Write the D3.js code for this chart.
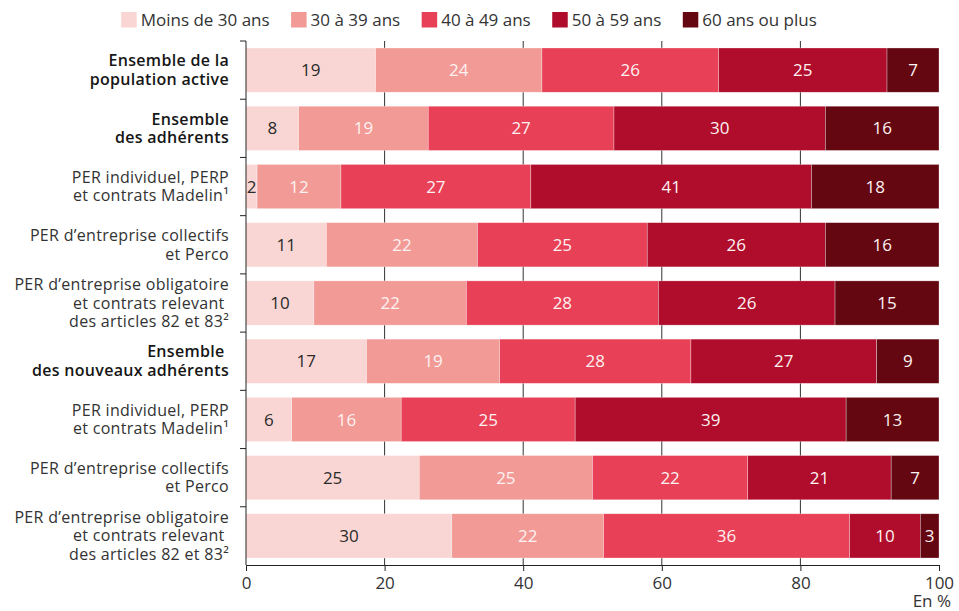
<!DOCTYPE html>
<html>
<head>
<meta charset="utf-8">
<script src="https://cdn.jsdelivr.net/npm/d3@7"></script>
<style>
    body { margin: 0; background: #fff; }
    svg text { font-family: "Open Sans", sans-serif; }
</style>
</head>
<body>
<div class="chart-container"></div>
<script>
// rows of the chart, top to bottom (each entry = lines of the label)
var categories = [
    ["Ensemble de la", "population active"],
    ["Ensemble", "des adhérents"],
    ["PER individuel, PERP", "et contrats Madelin¹"],
    ["PER d’entreprise collectifs", "et Perco"],
    ["PER d’entreprise obligatoire", "et contrats relevant ", "des articles 82 et 83²"],
    ["Ensemble ", "des nouveaux adhérents"],
    ["PER individuel, PERP", "et contrats Madelin¹"],
    ["PER d’entreprise collectifs", "et Perco"],
    ["PER d’entreprise obligatoire", "et contrats relevant ", "des articles 82 et 83²"]
];
var boldRows = [true, true, false, false, false, true, false, false, false];

var ageGroups = ["Moins de 30 ans", "30 à 39 ans", "40 à 49 ans", "50 à 59 ans", "60 ans ou plus"];
var colors = ["#f9d6d3", "#f29a95", "#e84056", "#af0d2b", "#640711"];

// shares in %
var under30 = [18.7, 7.6, 1.6, 11.6, 9.8, 17.4, 6.6, 25.0, 29.7];
var age30to39 = [24.0, 18.7, 12.1, 21.8, 22.0, 19.2, 15.8, 25.0, 21.9];
var age40to49 = [25.5, 26.8, 27.4, 24.5, 27.7, 27.6, 25.1, 22.4, 35.5];
var age50to59 = [24.3, 30.5, 40.5, 25.7, 25.5, 26.8, 39.1, 20.7, 10.2];
var over60 = [7.5, 16.4, 18.4, 16.4, 15.0, 9.0, 13.4, 6.9, 2.7];

// printed values (rounded, as shown in the bars)
var under30Labels = [19, 8, 2, 11, 10, 17, 6, 25, 30];
var age30to39Labels = [24, 19, 12, 22, 22, 19, 16, 25, 22];
var age40to49Labels = [26, 27, 27, 25, 28, 28, 25, 22, 36];
var age50to59Labels = [25, 30, 41, 26, 26, 27, 39, 21, 10];
var over60Labels = [7, 16, 18, 16, 15, 9, 13, 7, 3];

var xTicks = [0, 20, 40, 60, 80, 100];

var width = 959, height = 611;
var margin = {top: 41, right: 20, bottom: 46, left: 246};

var keys = ["g0", "g1", "g2", "g3", "g4"];
var series = [under30, age30to39, age40to49, age50to59, over60];
var seriesLabels = [under30Labels, age30to39Labels, age40to49Labels, age50to59Labels, over60Labels];

var table = categories.map(function (c, i) {
    var row = {index: i};
    keys.forEach(function (k, j) { row[k] = series[j][i]; });
    return row;
});

var svg = d3.select(".chart-container").append("svg")
    .attr("width", width)
    .attr("height", height);

var x = d3.scaleLinear()
    .domain([0, 100])
    .range([margin.left, 939]);

var y = d3.scaleBand()
    .domain(d3.range(categories.length))
    .range([margin.top, 565])
    .paddingInner(0.24)
    .paddingOuter(0.12);

// vertical gridlines behind the bars
svg.append("g")
    .selectAll("line")
    .data(xTicks.filter(function (t) { return t > 0 && t < 100; }))
    .enter().append("line")
    .attr("x1", function (d) { return x(d); })
    .attr("x2", function (d) { return x(d); })
    .attr("y1", margin.top)
    .attr("y2", 565)
    .attr("stroke", "#333")
    .attr("stroke-width", 1);

var stacked = d3.stack().keys(keys)(table);

var layer = svg.append("g")
    .selectAll("g")
    .data(stacked)
    .enter().append("g")
    .attr("fill", function (d, i) { return colors[i]; });

layer.selectAll("rect")
    .data(function (d) { return d; })
    .enter().append("rect")
    .attr("x", function (d) { return x(d[0]); })
    .attr("y", function (d) { return y(d.data.index); })
    .attr("width", function (d) { return x(d[1]) - x(d[0]); })
    .attr("height", y.bandwidth())
    .attr("stroke", "#fff")
    .attr("stroke-opacity", 0.5)
    .attr("stroke-width", 0.6);

// values inside the bars
layer.each(function (s, j) {
    d3.select(this).selectAll("text")
        .data(s)
        .enter().append("text")
        .attr("x", function (d) { return x((d[0] + d[1]) / 2); })
        .attr("y", function (d) { return y(d.data.index) + y.bandwidth() / 2; })
        .attr("dy", "0.36em")
        .attr("text-anchor", "middle")
        .attr("font-size", 17)
        .attr("fill", j === 0 ? "#2a2a2a" : "#fdf2f2")
        .text(function (d) { return seriesLabels[j][d.data.index]; });
});

// y axis
var yAxis = svg.append("g");
yAxis.append("line")
    .attr("x1", margin.left).attr("x2", margin.left)
    .attr("y1", margin.top).attr("y2", 565)
    .attr("stroke", "#222");
yAxis.selectAll("line.tick")
    .data(d3.range(categories.length))
    .enter().append("line")
    .attr("class", "tick")
    .attr("x1", margin.left - 6).attr("x2", margin.left)
    .attr("y1", function (d) { return y(d) - y.step() * y.paddingOuter(); })
    .attr("y2", function (d) { return y(d) - y.step() * y.paddingOuter(); })
    .attr("stroke", "#222");

var lineH = 18.5;
var catLabel = yAxis.selectAll("text")
    .data(categories)
    .enter().append("text")
    .attr("text-anchor", "end")
    .attr("font-size", 16)
    .attr("letter-spacing", 0.3)
    .attr("font-weight", function (d, i) { return boldRows[i] ? 600 : 400; })
    .attr("fill", function (d, i) { return boldRows[i] ? "#161616" : "#333"; })
    .style("white-space", "pre");

catLabel.each(function (lines, i) {
    var cy = y(i) + y.bandwidth() / 2;
    var n = lines.length;
    d3.select(this).selectAll("tspan")
        .data(lines)
        .enter().append("tspan")
        .attr("x", 229)
        .attr("y", function (d, k) { return cy + 5.5 + (k - (n - 1) / 2) * lineH; })
        .text(function (d) { return d; });
});

// x axis
var xAxis = d3.axisBottom(x)
    .tickValues(xTicks)
    .tickSize(6)
    .tickSizeOuter(0);

var gx = svg.append("g")
    .attr("transform", "translate(0,565)")
    .call(xAxis);
gx.select(".domain").attr("stroke", "#222");
gx.selectAll(".tick line").attr("stroke", "#222");
gx.selectAll(".tick text")
    .attr("font-size", 17)
    .attr("font-family", "Open Sans, sans-serif")
    .attr("fill", "#333")
    .attr("dy", "0.9em");

svg.append("text")
    .attr("x", 951)
    .attr("y", 607)
    .attr("text-anchor", "end")
    .attr("font-size", 17)
    .attr("fill", "#333")
    .text("En %");

// legend, centred above the plot
var legend = svg.append("g");
var item = legend.selectAll("g")
    .data(ageGroups)
    .enter().append("g");
item.append("rect")
    .attr("width", 15.5)
    .attr("height", 15.5)
    .attr("y", 12)
    .attr("fill", function (d, i) { return colors[i]; });
item.append("text")
    .attr("x", 19.5)
    .attr("y", 26)
    .attr("font-size", 17)
    .attr("fill", "#333")
    .text(function (d) { return d; });

var pos = 0;
item.each(function () {
    d3.select(this).attr("transform", "translate(" + pos + ",0)");
    pos += 19.5 + this.querySelector("text").getComputedTextLength() + 21.5;
});
var legendW = pos - 21.5;
legend.attr("transform", "translate(" + (469 - legendW / 2) + ",0)");
</script>
</body>
</html>
